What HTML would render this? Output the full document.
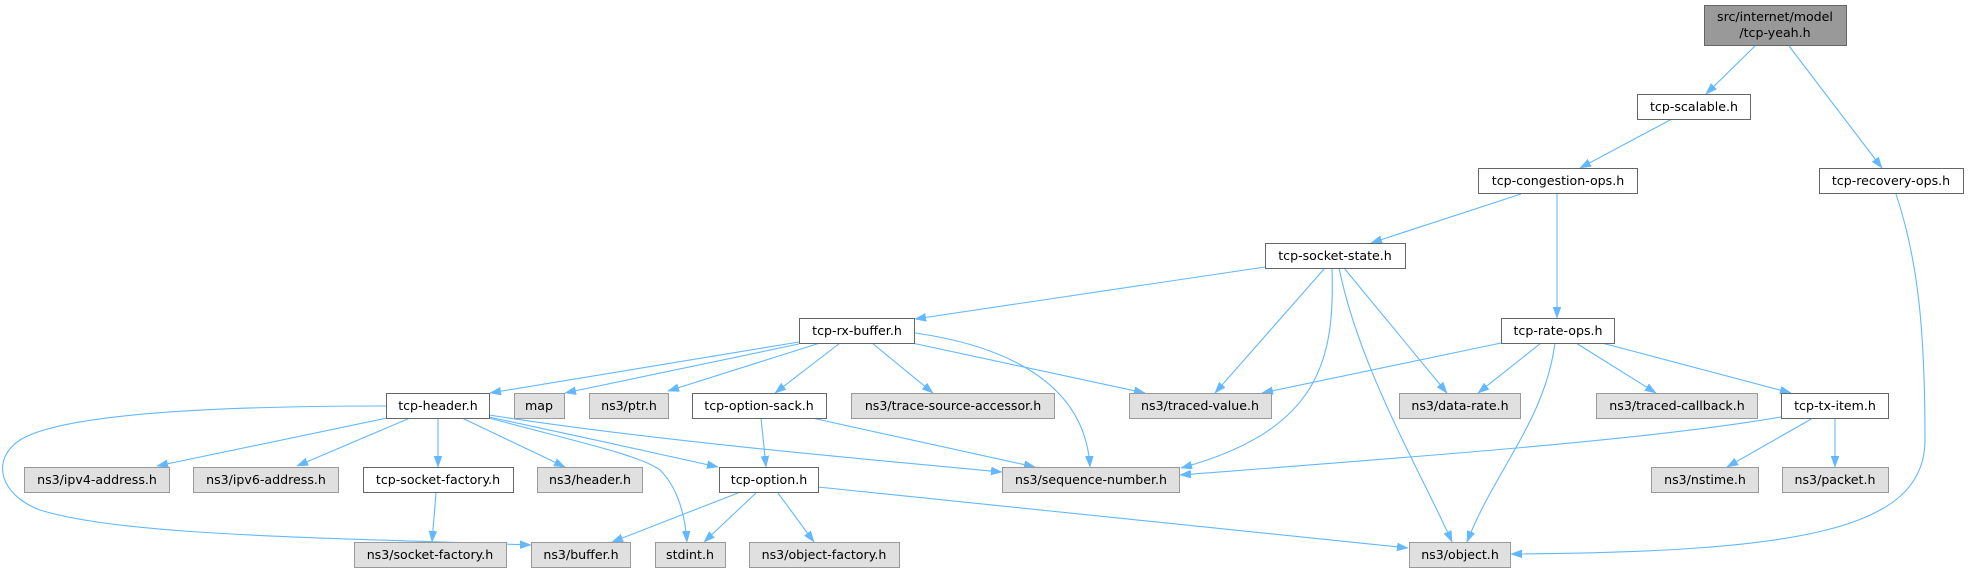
<!DOCTYPE html>
<html><head><meta charset="utf-8"><style>
html,body{margin:0;padding:0;background:#fff;}
svg{display:block;}
text{font-family:"DejaVu Sans","Liberation Sans",sans-serif;font-size:12.6px;fill:#000;text-anchor:middle;}
.e{fill:none;stroke:#63b8ff;stroke-width:1.1;marker-end:url(#a);}
.w{fill:#fff;stroke:#666;stroke-width:1;}
.g{fill:#e0e0e0;stroke:#999;stroke-width:1;}
.r{fill:#999;stroke:#666;stroke-width:1;}
</style></head><body>
<svg width="1969" height="573" viewBox="0 0 1969 573" xmlns="http://www.w3.org/2000/svg">
<defs><marker id="a" markerUnits="userSpaceOnUse" markerWidth="12" markerHeight="9" refX="11" refY="4" orient="auto"><path d="M0,0 L11,4 L0,8 z" fill="#63b8ff" stroke="#63b8ff" stroke-width="0.5"/></marker></defs>
<g>
<path class="e" d="M1755,46 L1706,94"/>
<path class="e" d="M1789,46 L1882,168"/>
<path class="e" d="M1672,119 L1580,168"/>
<path class="e" d="M1521,194 L1371,243"/>
<path class="e" d="M1557,194 L1557,318"/>
<path class="e" d="M1896,194 C1918,260 1925,330 1925,440 C1925,530 1800,552 1511,554"/>
<path class="e" d="M1265,267 L915,319"/>
<path class="e" d="M1325,268 L1215,393"/>
<path class="e" d="M1332,268 C1335,360 1320,430 1181,468"/>
<path class="e" d="M1339,268 C1360,370 1420,470 1452,542"/>
<path class="e" d="M1344,268 L1447,393"/>
<path class="e" d="M1501,343 L1262,393"/>
<path class="e" d="M1541,343 L1478,393"/>
<path class="e" d="M1555,343 C1545,420 1495,470 1467,542"/>
<path class="e" d="M1576,343 L1656,393"/>
<path class="e" d="M1602,343 L1791,393"/>
<path class="e" d="M1781,417 C1650,440 1400,458 1180,475"/>
<path class="e" d="M1813,418 L1727,467"/>
<path class="e" d="M1835,418 L1835,467"/>
<path class="e" d="M818,487 C1000,506 1200,527 1408,548"/>
<path class="e" d="M799,342 L490,393"/>
<path class="e" d="M799,344 L565,393"/>
<path class="e" d="M820,343 L668,391"/>
<path class="e" d="M840,343 L775,393"/>
<path class="e" d="M872,343 L933,393"/>
<path class="e" d="M912,343 L1145,393"/>
<path class="e" d="M915,333 C1000,345 1085,380 1090,467"/>
<path class="e" d="M761,418 L766,467"/>
<path class="e" d="M812,418 L1035,467"/>
<path class="e" d="M738,493 L612,542"/>
<path class="e" d="M756,493 L704,542"/>
<path class="e" d="M778,493 L814,542"/>
<path class="e" d="M387,418 L157,466"/>
<path class="e" d="M410,418 L297,466"/>
<path class="e" d="M438,418 L438,467"/>
<path class="e" d="M462,418 L565,467"/>
<path class="e" d="M386,406 C200,406 60,415 20,440 C-10,460 0,495 40,510 C120,535 300,537 531,545"/>
<path class="e" d="M436,493 L432,542"/>
<path class="e" d="M489,417 C560,432 650,452 718,467"/>
<path class="e" d="M489,418 C570,440 640,455 660,470 C678,488 685,515 687,542"/>
<path class="e" d="M489,415 C650,440 850,458 1002,472"/>
</g>
<g>
<rect class="r" x="1704.5" y="5.5" width="142" height="40"/>
<text x="1775" y="21">src/internet/model</text>
<text x="1775" y="37">/tcp-yeah.h</text>

<rect class="w" x="1637.5" y="94.5" width="113" height="25"/><text x="1694" y="111">tcp-scalable.h</text>
<rect class="w" x="1478.5" y="168.5" width="159" height="25"/><text x="1558" y="185">tcp-congestion-ops.h</text>
<rect class="w" x="1819.5" y="168.5" width="144" height="25"/><text x="1891" y="185">tcp-recovery-ops.h</text>
<rect class="w" x="1265.5" y="243.5" width="140" height="25"/><text x="1335" y="260">tcp-socket-state.h</text>
<rect class="w" x="799.5" y="318.5" width="115" height="25"/><text x="857" y="335">tcp-rx-buffer.h</text>
<rect class="w" x="1501.5" y="318.5" width="113" height="25"/><text x="1558" y="335">tcp-rate-ops.h</text>

<rect class="w" x="386.5" y="393.5" width="103" height="25"/><text x="438" y="410">tcp-header.h</text>
<rect class="g" x="514.5" y="393.5" width="50" height="25"/><text x="539" y="410">map</text>
<rect class="g" x="589.5" y="393.5" width="79" height="25"/><text x="629" y="410">ns3/ptr.h</text>
<rect class="w" x="692.5" y="393.5" width="134" height="25"/><text x="759" y="410">tcp-option-sack.h</text>
<rect class="g" x="851.5" y="393.5" width="203" height="25"/><text x="953" y="410">ns3/trace-source-accessor.h</text>
<rect class="g" x="1129.5" y="393.5" width="142" height="25"/><text x="1200" y="410">ns3/traced-value.h</text>
<rect class="g" x="1399.5" y="393.5" width="121" height="25"/><text x="1460" y="410">ns3/data-rate.h</text>
<rect class="g" x="1596.5" y="393.5" width="161" height="25"/><text x="1677" y="410">ns3/traced-callback.h</text>
<rect class="w" x="1781.5" y="393.5" width="107" height="25"/><text x="1835" y="410">tcp-tx-item.h</text>

<rect class="g" x="24.5" y="467.5" width="145" height="25"/><text x="97" y="484">ns3/ipv4-address.h</text>
<rect class="g" x="193.5" y="467.5" width="145" height="25"/><text x="266" y="484">ns3/ipv6-address.h</text>
<rect class="w" x="363.5" y="467.5" width="150" height="25"/><text x="438" y="484">tcp-socket-factory.h</text>
<rect class="g" x="537.5" y="467.5" width="105" height="25"/><text x="590" y="484">ns3/header.h</text>
<rect class="w" x="719.5" y="467.5" width="99" height="25"/><text x="769" y="484">tcp-option.h</text>
<rect class="g" x="1002.5" y="467.5" width="177" height="25"/><text x="1091" y="484">ns3/sequence-number.h</text>
<rect class="g" x="1651.5" y="467.5" width="107" height="25"/><text x="1705" y="484">ns3/nstime.h</text>
<rect class="g" x="1782.5" y="467.5" width="106" height="25"/><text x="1835" y="484">ns3/packet.h</text>

<rect class="g" x="354.5" y="542.5" width="152" height="25"/><text x="430" y="559">ns3/socket-factory.h</text>
<rect class="g" x="531.5" y="542.5" width="99" height="25"/><text x="581" y="559">ns3/buffer.h</text>
<rect class="g" x="655.5" y="542.5" width="70" height="25"/><text x="690" y="559">stdint.h</text>
<rect class="g" x="749.5" y="542.5" width="150" height="25"/><text x="824" y="559">ns3/object-factory.h</text>
<rect class="g" x="1409.5" y="542.5" width="101" height="25"/><text x="1460" y="559">ns3/object.h</text>
</g>
</svg>
</body></html>
